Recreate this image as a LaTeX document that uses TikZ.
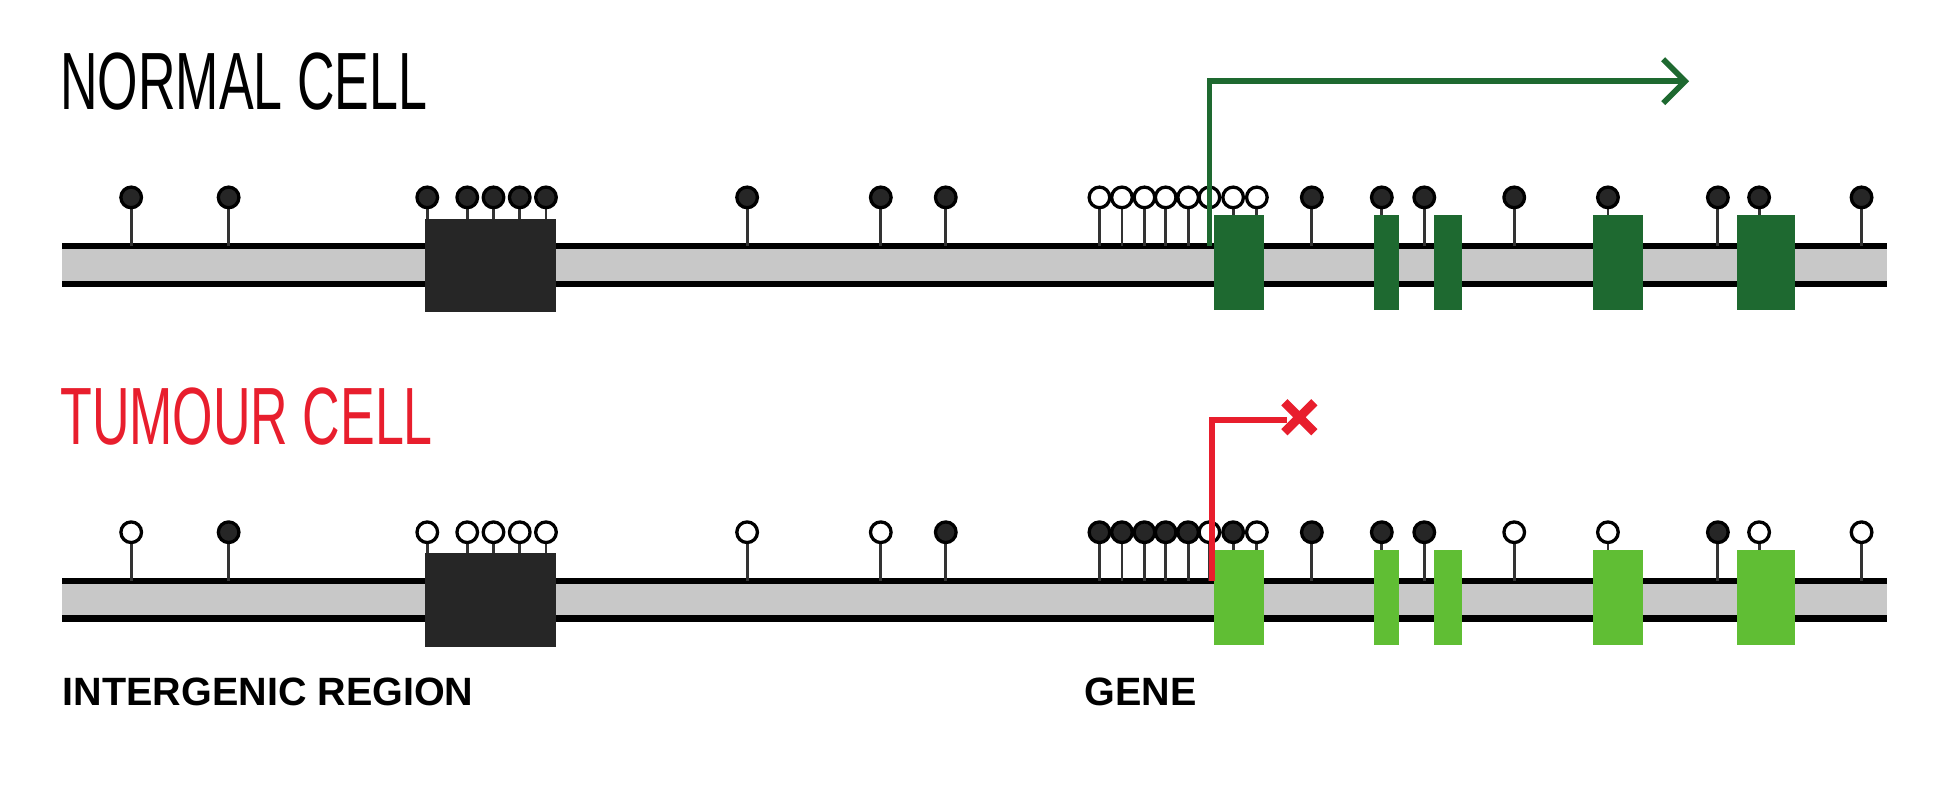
\documentclass[tikz,border=0pt]{standalone}
\usepackage{fontspec}
\setmainfont{Liberation Sans}
\newfontfamily\condensed[FakeStretch=0.64]{Liberation Sans}
\usetikzlibrary{arrows.meta}
\definecolor{genedark}{RGB}{30,105,48}
\definecolor{genelight}{RGB}{96,190,52}
\definecolor{tumourred}{RGB}{232,30,45}
\definecolor{strandgray}{RGB}{200,200,200}
\tikzstyle{title} = [anchor=base west, inner sep=0, font=\condensed\fontsize{37}{37}\selectfont]
\tikzstyle{label} = [anchor=base west, inner sep=0, font=\bfseries\fontsize{18}{18}\selectfont]
\tikzstyle{head} = [circle, draw=black, line width=1.5pt, minimum size=0.33cm, inner sep=0]
\tikzstyle{meth} = [head, fill=black!85]
\tikzstyle{unmeth} = [head, fill=white]
\tikzstyle{stem} = [line width=1.3pt, black!80]

% one lollipop: \lolli{x}{y of head}{y of stem foot}{style}
\newcommand{\lolli}[4]{
  \draw[stem] (#1,#3) -- (#1,#2);
  \node[#4] at (#1,#2) {};
}

\begin{document}
\begin{tikzpicture}[x=0.02cm, y=-0.02cm]
\useasboundingbox (0,0) rectangle (1568,640);

% Titles
\node[title] (normal) at (48,88) {NORMAL CELL};
\node[title, text=tumourred] (tumour) at (48,356) {TUMOUR CELL};

% Strands
\foreach \y in {0,268}{
  \fill[strandgray] (50,197+\y) rectangle (1510,227+\y);
  \draw[line width=2.8pt] (50,197+\y) -- (1510,197+\y);
  \draw[line width=2.8pt] (50,227+\y) -- (1510,227+\y);
  \fill[black!85] (340,175+\y) rectangle (445,250+\y);
}

% Normal cell CpG sites
\foreach \x in {105,183,598,705,757,1050,1106,1140,1212,1287,1375,1408,1490}
  {\lolli{\x}{158}{197}{meth}}
\foreach \x in {342,374,395,416,437}
  {\lolli{\x}{158}{175}{meth}}
\foreach \x in {880,898,916,933,951,968}
  {\lolli{\x}{158}{197}{unmeth}}
\foreach \x in {987,1006}
  {\lolli{\x}{158}{172}{unmeth}}

% Tumour cell CpG sites
\foreach \x in {183,757,1050,1106,1140,1375}
  {\lolli{\x}{426}{465}{meth}}
\foreach \x in {105,598,705,1212,1287,1408,1490}
  {\lolli{\x}{426}{465}{unmeth}}
\foreach \x in {342,374,395,416,437}
  {\lolli{\x}{426}{443}{unmeth}}
\foreach \x in {880,898,916,933,951}
  {\lolli{\x}{426}{465}{meth}}
\lolli{968}{426}{465}{unmeth}
\lolli{987}{426}{440}{meth}
\lolli{1006}{426}{440}{unmeth}

% Normal cell exons
\foreach \a/\b in {972/1012, 1100/1120, 1148/1170, 1275/1315, 1390/1437}
  \fill[genedark] (\a,172) rectangle (\b,248);

% Tumour cell exons
\foreach \a/\b in {972/1012, 1100/1120, 1148/1170, 1275/1315, 1390/1437}
  \fill[genelight] (\a,440) rectangle (\b,516);

% Transcription start
\coordinate (nstart) at (968,197);
\coordinate (nend) at (1352,65);
\draw[genedark, line width=2.6pt, -{Straight Barb[length=10pt, width=20pt, line width=2.6pt]}]
  (nstart) |- (nend);
\coordinate (tstart) at (970,465);
\coordinate (tend) at (1030,336);
\draw[tumourred, line width=2.6pt] (tstart) |- (tend);
\coordinate (block) at (1040,334);
\draw[tumourred, line width=4pt] ([shift={(-12,-12)}]block) -- ([shift={(12,12)}]block)
  ([shift={(-12,12)}]block) -- ([shift={(12,-12)}]block);

% Region labels
\node[label] (intergenic) at (50,565) {INTERGENIC REGION};
\node[label] (gene) at (868,565) {GENE};

\end{tikzpicture}
\end{document}
